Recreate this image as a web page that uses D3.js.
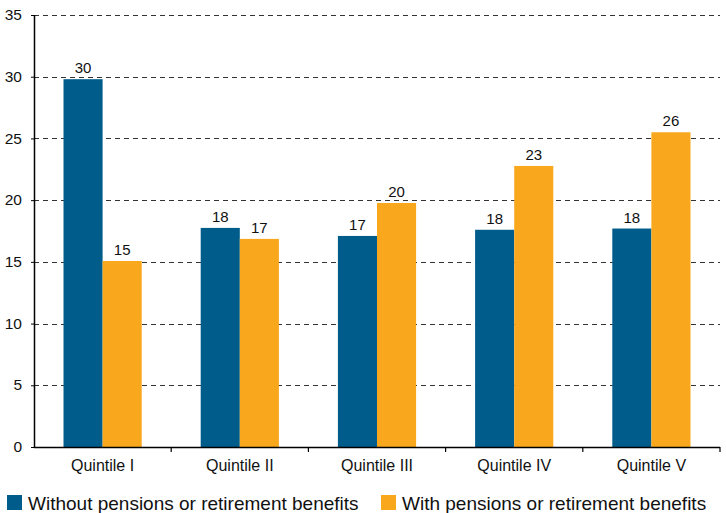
<!DOCTYPE html>
<html><head><meta charset="utf-8">
<script src="https://cdn.jsdelivr.net/npm/d3@7"></script>
<style>body{margin:0;background:#fff}svg{display:block;font-family:"Liberation Sans",Arial,sans-serif}</style>
</head><body>
<svg id="c" width="726" height="513"></svg>
<script>
const categories = ["Quintile I","Quintile II","Quintile III","Quintile IV","Quintile V"];
const seriesNames = ["Without pensions or retirement benefits","With pensions or retirement benefits"];
const withoutPensions = [29.8, 17.75, 17.1, 17.6, 17.7];
const withPensions = [15.07, 16.86, 19.77, 22.77, 25.5];
const yTicks = [0,5,10,15,20,25,30,35];
const colors = ["#005d8b","#f9a81e"];

(function(){
const svg = d3.select("#c");
const pL = 34, pR = 720, pT = 15, pB = 447;
const x = d3.scaleBand().domain(categories).range([pL, pR]).paddingInner(0).paddingOuter(0);
const y = d3.scaleLinear().domain([0,35]).range([pB, pT]);
const groupFrac = 0.57;
const xs = d3.scaleBand().domain([0,1]).range([0, x.bandwidth()*groupFrac]);
const off = x.bandwidth()*(1-groupFrac)/2;

// gridlines
svg.append("g").selectAll("line").data(yTicks.filter(d=>d>0)).join("line")
  .attr("x1", pL).attr("x2", pR).attr("y1", d=>Math.round(y(d))+0.5).attr("y2", d=>Math.round(y(d))+0.5)
  .attr("stroke","#333").attr("stroke-width",1).attr("stroke-dasharray","5,4");

// bars
const data = [withoutPensions, withPensions];
categories.forEach((c,i)=>{
  data.forEach((s,j)=>{
    const v = s[i];
    const bx = x(c)+off+xs(j);
    svg.append("rect").attr("x", bx).attr("y", y(v)).attr("width", xs.bandwidth()).attr("height", y(0)-y(v))
      .attr("fill", colors[j]);
    svg.append("text").attr("x", bx+xs.bandwidth()/2).attr("y", y(v)-6).attr("text-anchor","middle")
      .attr("font-size",15).attr("fill","#111").text(Math.round(v));
  });
});

// y axis
const ya = svg.append("g").attr("transform",`translate(${pL},0)`)
  .call(d3.axisLeft(y).tickValues(yTicks).tickSize(3).tickFormat(d3.format("d")));
ya.select(".domain").attr("stroke","#000").attr("stroke-width",1.5).attr("d",`M0.5,${pT}V${pB}`);
ya.selectAll(".tick line").attr("stroke","#000");
ya.selectAll("text").attr("font-size",15.5).attr("fill","#111").attr("x",-12).attr("dy","0.3em")
  .attr("font-family","Liberation Sans, Arial, sans-serif");

// x axis
const xa = svg.append("g").attr("transform",`translate(0,${pB})`);
xa.append("line").attr("x1",pL).attr("x2",pR).attr("y1",0.5).attr("y2",0.5).attr("stroke","#000").attr("stroke-width",1.5);
const bounds = categories.map(c=>x(c)+x.bandwidth());
xa.selectAll(".bt").data(bounds).join("line").attr("class","bt")
  .attr("x1",d=>d).attr("x2",d=>d).attr("y1",0).attr("y2",5).attr("stroke","#000").attr("stroke-width",1.2);
xa.selectAll(".cl").data(categories).join("text").attr("class","cl")
  .attr("x",d=>x(d)+x.bandwidth()/2).attr("y",24).attr("text-anchor","middle")
  .attr("font-size",16).attr("fill","#111").text(d=>d);

// legend
const lg = svg.append("g");
const lx = [7, 381];
seriesNames.forEach((n,j)=>{
  lg.append("rect").attr("x",lx[j]).attr("y",495).attr("width",15).attr("height",15).attr("fill",colors[j]);
  lg.append("text").attr("x",lx[j]+21).attr("y",510).attr("font-size",19).attr("fill","#111").text(n);
});
})();
</script>
</body></html>
